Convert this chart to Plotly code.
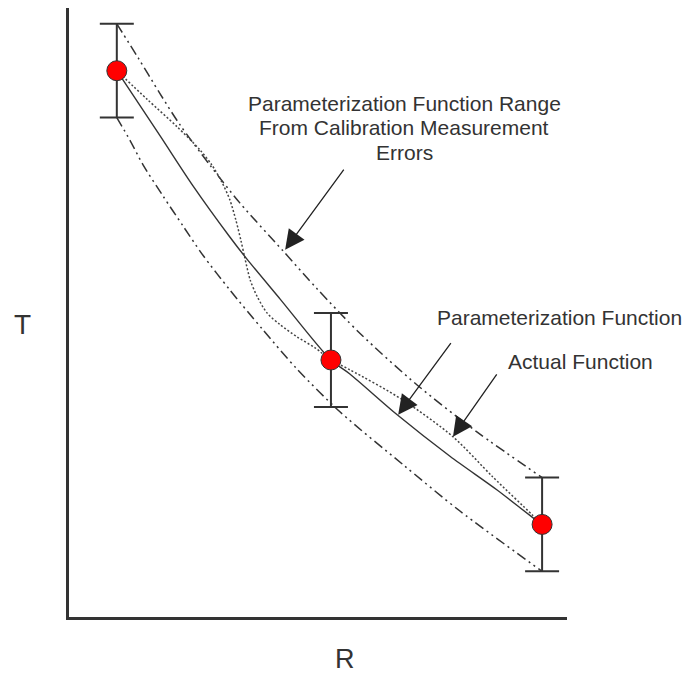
import plotly.graph_objects as go

# Calibration points (R, T) and their error half-range
R_pts = [9.6, 52.6, 95.0]
T_pts = [89.7, 42.2, 15.2]
T_err = [7.7, 7.7, 7.7]

# Actual function (solid)
R_actual = [9.6, 18.3, 24.9, 32.3, 35.7, 42.4, 52.6, 56.4, 65.9, 76.5, 85.9, 93.0, 95.0]
T_actual = [89.7, 79.0, 70.8, 62.4, 58.8, 52.2, 42.2, 39.9, 33.2, 26.4, 20.9, 16.4, 15.2]

# Parameterization function (dotted)
R_param = [9.6, 15.7, 21.7, 26.3, 28.7, 30.7, 32.3, 33.5, 34.5, 35.3, 36.4, 37.8, 39.8,
           42.4, 45.8, 49.4, 52.6, 56.4, 67.1, 77.1, 85.1, 93.0, 95.0]
T_param = [89.7, 85.0, 80.5, 76.7, 74.2, 71.4, 68.5, 65.2, 61.9, 59.0, 55.3, 52.6, 49.9,
           48.0, 46.0, 44.2, 42.2, 40.6, 35.6, 29.6, 23.0, 16.8, 15.2]

# Range bounds (dash-dot-dot)
R_upper = [9.6, 13.9, 18.3, 22.3, 28.3, 34.3, 43.0, 49.8, 58.4, 69.9, 81.9, 95.0]
T_upper = [97.4, 91.8, 85.9, 80.8, 74.2, 68.0, 60.1, 53.9, 46.6, 38.1, 30.4, 22.9]
R_lower = [9.6, 12.3, 14.9, 18.9, 22.9, 26.9, 32.3, 39.0, 45.8, 54.4, 67.1, 78.5, 95.0]
T_lower = [82.0, 78.2, 74.2, 69.1, 64.2, 59.4, 53.7, 47.1, 40.7, 33.7, 25.0, 17.4, 7.5]

INK = "#333333"
FONT = "Arial, Liberation Sans, sans-serif"
DASHDOT = "10px,4px,2px,4px,2px,4px"

fig = go.Figure()
for xs, ys in [(R_upper, T_upper), (R_lower, T_lower)]:
    fig.add_trace(go.Scatter(x=xs, y=ys, mode="lines",
                             line=dict(color=INK, width=1.5, dash=DASHDOT, shape="spline", smoothing=0.8),
                             hoverinfo="skip", showlegend=False))
fig.add_trace(go.Scatter(x=R_param, y=T_param, mode="lines",
                         line=dict(color="#444444", width=1.5, dash="2px,2px", shape="spline", smoothing=0.8),
                         showlegend=False))
fig.add_trace(go.Scatter(x=R_actual, y=T_actual, mode="lines",
                         line=dict(color=INK, width=1.4, shape="spline", smoothing=0.8),
                         showlegend=False))
fig.add_trace(go.Scatter(x=R_pts, y=T_pts, mode="markers",
                         marker=dict(color="#ff0000", size=20, line=dict(color=INK, width=1)),
                         error_y=dict(type="data", array=T_err, color=INK, thickness=2, width=17),
                         showlegend=False))

ann = []
# text labels
for txt, yv in [("Parameterization Function Range", 84.4),
                ("From Calibration Measurement", 80.4),
                ("Errors", 76.3)]:
    ann.append(dict(x=67.3, y=yv, xref="x", yref="y", text=txt, showarrow=False,
                    xanchor="center", yanchor="middle", font=dict(size=21, color=INK, family=FONT)))
ann.append(dict(x=73.6, y=49.1, xref="x", yref="y", text="Parameterization Function", showarrow=False,
                xanchor="left", yanchor="middle", borderpad=0,
                font=dict(size=21, color=INK, family=FONT)))
ann.append(dict(x=88.0, y=41.9, xref="x", yref="y", text="Actual Function", showarrow=False,
                xanchor="left", yanchor="middle", borderpad=0,
                font=dict(size=21, color=INK, family=FONT)))
# arrows
for (tx, ty), (hx, hy) in [((55.4, 73.7), (43.4, 60.3)),
                           ((76.9, 45.2), (66.1, 33.2)),
                           ((86.1, 40.1), (77.1, 29.6))]:
    ann.append(dict(x=hx, y=hy, ax=tx, ay=ty, xref="x", yref="y", axref="x", ayref="y",
                    text="", showarrow=True, arrowhead=2, arrowsize=3.0, arrowwidth=1.3,
                    arrowcolor="#222222", standoff=0))
# axis letters
ann.append(dict(x=-0.094, y=0.48, xref="paper", yref="paper", text="T", showarrow=False,
                xanchor="center", yanchor="middle", font=dict(size=28, color=INK, family=FONT)))
ann.append(dict(x=0.554, y=-0.069, xref="paper", yref="paper", text="R", showarrow=False,
                xanchor="center", yanchor="middle", borderpad=0,
                font=dict(size=27, color=INK, family=FONT)))

axis_common = dict(range=[0, 100], showline=True, linecolor=INK, linewidth=2.5,
                   showgrid=False, zeroline=False, showticklabels=False, ticks="")
# the page body adds an 8px margin on every side, so the figure is made 16px smaller
fig.update_layout(width=677, height=667, margin=dict(l=61, r=118, t=0, b=58, pad=0),
                  paper_bgcolor="white", plot_bgcolor="white",
                  xaxis=axis_common, yaxis=axis_common, annotations=ann, showlegend=False)
fig.write_html("out.html")
